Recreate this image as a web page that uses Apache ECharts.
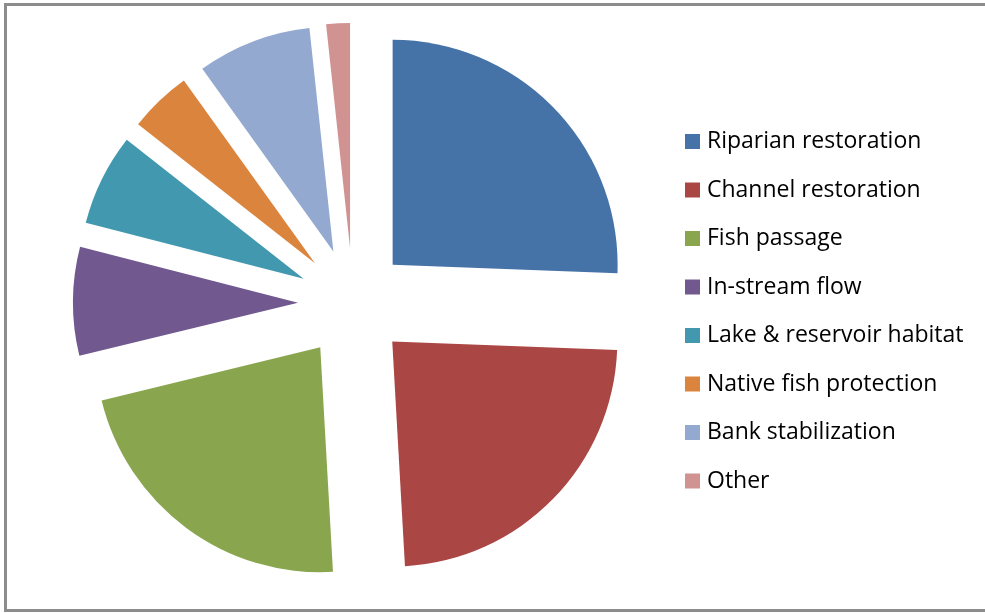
<!DOCTYPE html>
<html>
<head>
<meta charset="utf-8">
<script src="https://cdn.jsdelivr.net/npm/echarts@6/dist/echarts.min.js"></script>
<style>
html,body{margin:0;padding:0;background:#fff;}
#chart{width:985px;height:613px;}
</style>
</head>
<body>
<div id="chart"></div>
<script>
const categories = ['Riparian restoration','Channel restoration','Fish passage','In-stream flow','Lake & reservoir habitat','Native fish protection','Bank stabilization','Other'];
const values = [25.6, 23.5, 22.1, 7.8, 6.6, 4.5, 8.2, 1.7];
const colors = ['#4572A7','#AA4643','#89A54E','#71588F','#4198AF','#DB843D','#93A9CF','#D19392'];

const chart = echarts.init(document.getElementById('chart'), null, {renderer:'canvas'});
chart.setOption({
  animation: false,
  backgroundColor: '#ffffff',
  color: colors,
  graphic: [{
    type: 'polyline',
    shape: {points: [[990, 4.5], [5.5, 4.5], [5.5, 610.5], [990, 610.5]]},
    style: {fill: 'none', stroke: '#8c8c8c', lineWidth: 3},
    silent: true
  }],
  legend: {
    orient: 'vertical',
    left: 680,
    top: 125,
    icon: 'rect',
    itemWidth: 15,
    itemHeight: 15,
    itemGap: 25.5,
    selectedMode: false,
    data: categories,
    textStyle: {fontFamily: 'Open Sans', fontSize: 23, lineHeight: 22, color: '#000', padding: [0,0,0,2]}
  },
  series: [{
    type: 'pie',
    center: [353, 303],
    radius: [0, 225],
    startAngle: 90,
    clockwise: true,
    selectedMode: 'multiple',
    selectedOffset: 55,
    label: {show: false},
    labelLine: {show: false},
    emphasis: {disabled: true},
    itemStyle: {borderWidth: 0},
    data: categories.map((c, i) => ({name: c, value: values[i], selected: true}))
  }]
});
</script>
</body>
</html>
